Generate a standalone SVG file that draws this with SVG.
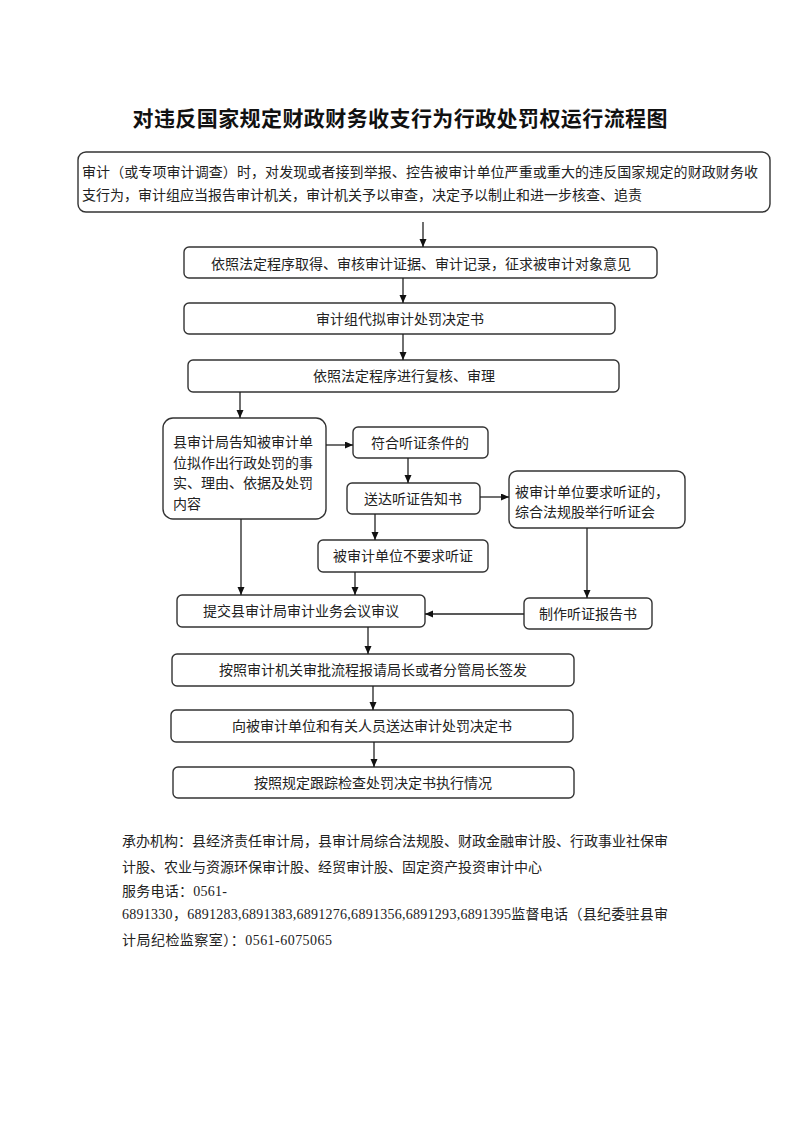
<svg xmlns="http://www.w3.org/2000/svg" width="800" height="1131" viewBox="0 0 800 1131">
<style>
.box{fill:#fff;stroke:#333;stroke-width:1.4}
.t{font-family:"Liberation Serif","Noto Sans CJK SC",serif;font-size:14px;fill:#222}
.c{text-anchor:middle}
.title{font-family:"Noto Sans CJK SC",sans-serif;font-size:21px;font-weight:bold;fill:#111;text-anchor:middle}
.conn line{stroke:#222;stroke-width:1.3;marker-end:url(#ah)}
</style>
<defs>
<marker id="ah" markerWidth="8" markerHeight="8" refX="8" refY="3.5" orient="auto" markerUnits="userSpaceOnUse">
<path d="M0,0 L8,3.5 L0,7 z" fill="#111"/>
</marker>
</defs>
<rect width="800" height="1131" fill="#fff"/>
<text class="title" x="400" y="126" textLength="535" lengthAdjust="spacing">对违反国家规定财政财务收支行为行政处罚权运行流程图</text>

<g id="n1"><rect class="box" x="78" y="152" width="692" height="60" rx="8"/>
<text class="t" x="82" y="177" textLength="676" lengthAdjust="spacing">审计（或专项审计调查）时，对发现或者接到举报、控告被审计单位严重或重大的违反国家规定的财政财务收</text>
<text class="t" x="82" y="200">支行为，审计组应当报告审计机关，审计机关予以审查，决定予以制止和进一步核查、追责</text></g>
<g id="n2"><rect class="box" x="184" y="247" width="473" height="31" rx="5"/>
<text class="t c" x="421" y="269">依照法定程序取得、审核审计证据、审计记录，征求被审计对象意见</text></g>
<g id="n3"><rect class="box" x="184" y="303" width="431" height="31" rx="5"/>
<text class="t c" x="400" y="324">审计组代拟审计处罚决定书</text></g>
<g id="n4"><rect class="box" x="188" y="360" width="431" height="32" rx="5"/>
<text class="t c" x="404" y="381">依照法定程序进行复核、审理</text></g>
<g id="n5"><rect class="box" x="163" y="418" width="163" height="101" rx="10"/>
<text class="t" x="173" y="447">县审计局告知被审计单</text>
<text class="t" x="173" y="467.5">位拟作出行政处罚的事</text>
<text class="t" x="173" y="488">实、理由、依据及处罚</text>
<text class="t" x="173" y="508.5">内容</text></g>
<g id="n6"><rect class="box" x="353" y="427" width="135" height="31" rx="5"/>
<text class="t c" x="420" y="448">符合听证条件的</text></g>
<g id="n7"><rect class="box" x="347" y="483" width="133" height="31" rx="5"/>
<text class="t c" x="413" y="504">送达听证告知书</text></g>
<g id="n8"><rect class="box" x="509" y="471" width="176" height="57" rx="8"/>
<text class="t" x="515" y="497">被审计单位要求听证的，</text>
<text class="t" x="515" y="517">综合法规股举行听证会</text></g>
<g id="n9"><rect class="box" x="318" y="540" width="170" height="32" rx="5"/>
<text class="t c" x="403" y="561">被审计单位不要求听证</text></g>
<g id="n10"><rect class="box" x="177" y="595" width="248" height="32" rx="5"/>
<text class="t c" x="301" y="616">提交县审计局审计业务会议审议</text></g>
<g id="n11"><rect class="box" x="524" y="598" width="128" height="31" rx="5"/>
<text class="t c" x="588" y="619">制作听证报告书</text></g>
<g id="n12"><rect class="box" x="172" y="654" width="402" height="32" rx="5"/>
<text class="t c" x="373" y="675">按照审计机关审批流程报请局长或者分管局长签发</text></g>
<g id="n13"><rect class="box" x="171" y="710" width="402" height="32" rx="5"/>
<text class="t c" x="372" y="731">向被审计单位和有关人员送达审计处罚决定书</text></g>
<g id="n14"><rect class="box" x="173" y="767" width="401" height="31" rx="5"/>
<text class="t c" x="373" y="788">按照规定跟踪检查处罚决定书执行情况</text></g>

<g id="connectors" class="conn">
<line x1="423" y1="222" x2="423" y2="247"/>
<line x1="403" y1="278" x2="403" y2="303"/>
<line x1="403" y1="334" x2="403" y2="360"/>
<line x1="240" y1="392" x2="240" y2="418"/>
<line x1="326" y1="445" x2="353" y2="445"/>
<line x1="408" y1="458" x2="408" y2="483"/>
<line x1="480" y1="497" x2="509" y2="497"/>
<line x1="375" y1="514" x2="375" y2="540"/>
<line x1="355" y1="572" x2="355" y2="595"/>
<line x1="241" y1="519" x2="241" y2="595"/>
<line x1="587" y1="528" x2="587" y2="598"/>
<line x1="524" y1="614" x2="425" y2="614"/>
<line x1="368" y1="627" x2="368" y2="654"/>
<line x1="373" y1="686" x2="373" y2="710"/>
<line x1="374" y1="742" x2="374" y2="767"/>
</g>

<g id="footer">
<text class="t" x="122" y="846" textLength="546" lengthAdjust="spacing">承办机构：县经济责任审计局，县审计局综合法规股、财政金融审计股、行政事业社保审</text>
<text class="t" x="122" y="872">计股、农业与资源环保审计股、经贸审计股、固定资产投资审计中心</text>
<text class="t" x="122" y="896" textLength="105" lengthAdjust="spacing">服务电话：0561-</text>
<text class="t" x="122" y="919" textLength="546" lengthAdjust="spacing">6891330，6891283,6891383,6891276,6891356,6891293,6891395监督电话（县纪委驻县审</text>
<text class="t" x="122" y="945" textLength="210" lengthAdjust="spacing">计局纪检监察室）：0561-6075065</text>
</g>
</svg>
